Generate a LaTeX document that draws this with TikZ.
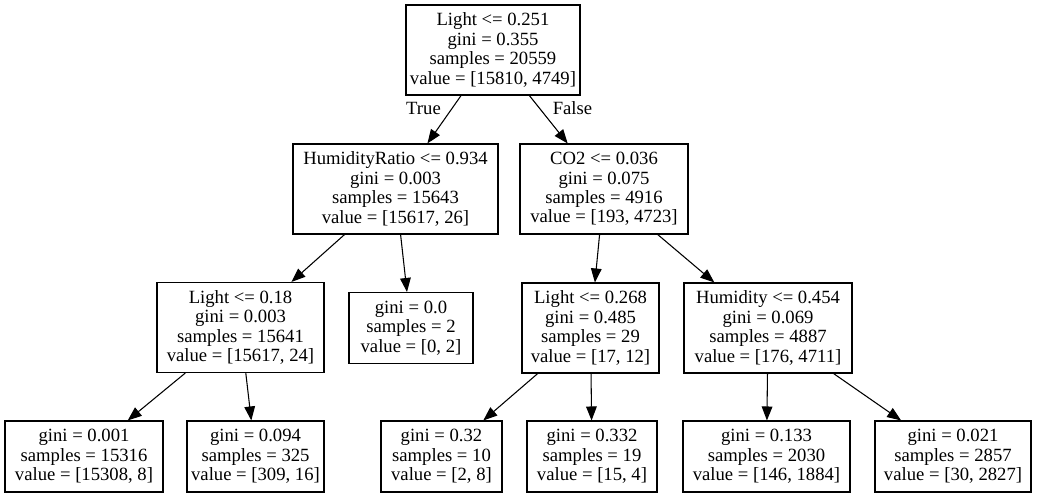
\documentclass[tikz,border=0pt]{standalone}
\usepackage{fontspec}
\setmainfont{Liberation Serif}
\usetikzlibrary{arrows.meta}
\begin{document}
\begin{tikzpicture}[x=0.75pt, y=-0.75pt,
    treebox/.style={draw=black, line width=0.8pt, fill=white, align=center, inner sep=0pt,
        font=\fontsize{14}{14.6}\selectfont},
    splitbox/.style={treebox, minimum height=67.5pt},
    leafbox/.style={treebox, minimum height=53.25pt},
    treearrow/.style={line width=0.8pt, -{Triangle[length=10.5pt,width=8pt]}},
    edgelabel/.style={font=\fontsize{14}{14.6}\selectfont, inner sep=0pt}]
    \fill[white] (0,0) rectangle (1037,497);
    \useasboundingbox (0,0) rectangle (1037,497);
    %% split nodes (x, y and widths in px)
    \node[splitbox, minimum width=130.5pt] (root) at (493,50)
        {Light <= 0.251\\gini = 0.355\\samples = 20559\\value = [15810, 4749]};
    \node[splitbox, minimum width=153.75pt] (hr) at (395.5,189)
        {HumidityRatio <= 0.934\\gini = 0.003\\samples = 15643\\value = [15617, 26]};
    \node[splitbox, minimum width=126pt] (co2) at (604,189)
        {CO2 <= 0.036\\gini = 0.075\\samples = 4916\\value = [193, 4723]};
    \node[splitbox, minimum width=125.25pt] (lightb) at (240.5,327.5)
        {Light <= 0.18\\gini = 0.003\\samples = 15641\\value = [15617, 24]};
    \node[splitbox, minimum width=102.75pt] (lightc) at (590.5,328)
        {Light <= 0.268\\gini = 0.485\\samples = 29\\value = [17, 12]};
    \node[splitbox, minimum width=126pt] (humid) at (768,328)
        {Humidity <= 0.454\\gini = 0.069\\samples = 4887\\value = [176, 4711]};
    %% leaves
    \node[leafbox, minimum width=93pt] (leafa) at (411,328)
        {gini = 0.0\\samples = 2\\value = [0, 2]};
    \node[leafbox, minimum width=118.5pt] (leafb) at (84,456.5)
        {gini = 0.001\\samples = 15316\\value = [15308, 8]};
    \node[leafbox, minimum width=102.75pt] (leafc) at (255.5,456.5)
        {gini = 0.094\\samples = 325\\value = [309, 16]};
    \node[leafbox, minimum width=90.75pt] (leafd) at (441.5,456.5)
        {gini = 0.32\\samples = 10\\value = [2, 8]};
    \node[leafbox, minimum width=97.5pt] (leafe) at (592,456.5)
        {gini = 0.332\\samples = 19\\value = [15, 4]};
    \node[leafbox, minimum width=125.25pt] (leaff) at (766.5,456.5)
        {gini = 0.133\\samples = 2030\\value = [146, 1884]};
    \node[leafbox, minimum width=117pt] (leafg) at (953,456.5)
        {gini = 0.021\\samples = 2857\\value = [30, 2827]};
    \foreach \a/\b in {root/hr, root/co2, hr/lightb, hr/leafa, co2/lightc, co2/humid,
        lightb/leafb, lightb/leafc, lightc/leafd, lightc/leafe, humid/leaff, humid/leafg}
    {
        \draw[treearrow] (\a) -- (\b);
    };
    \node[edgelabel] (lbltrue) at (423.5,108) {True};
    \node[edgelabel] (lblfalse) at (572.5,108) {False};
\end{tikzpicture}
\end{document}
